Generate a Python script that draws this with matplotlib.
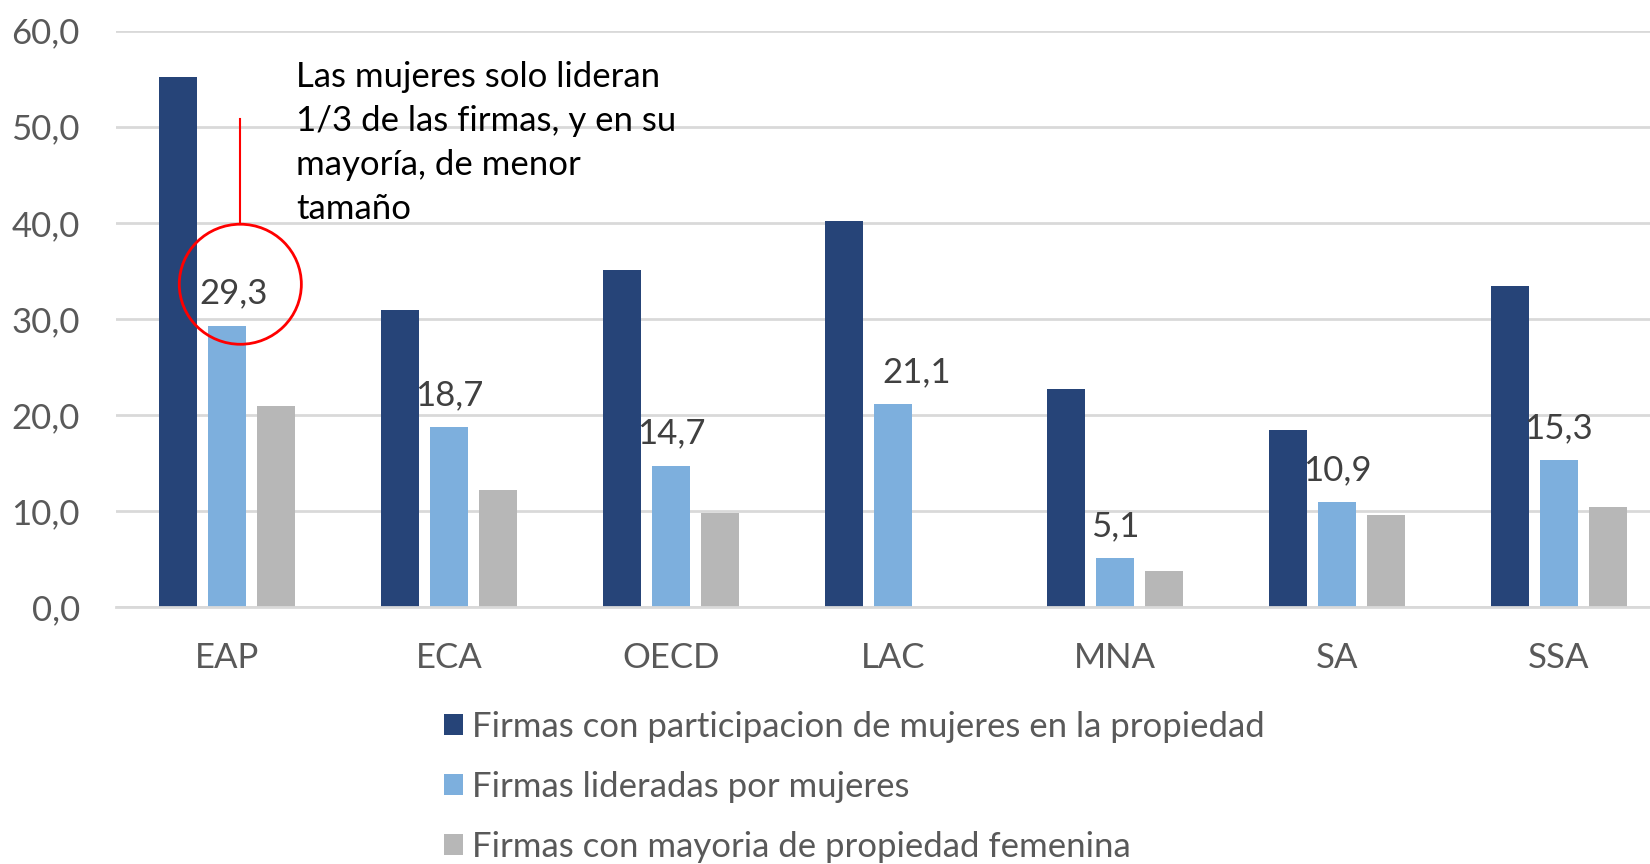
"""
Firmas con participacion femenina por region (barras agrupadas).
"""

import numpy as np
import matplotlib.pyplot as plt
from matplotlib.patches import Ellipse

regions = ['EAP', 'ECA', 'OECD', 'LAC', 'MNA', 'SA', 'SSA']
participacion = [55.2, 30.9, 35.1, 40.2, 22.7, 18.4, 33.4]
lideradas = [29.3, 18.7, 14.7, 21.1, 5.1, 10.9, 15.3]
mayoria = [20.9, 12.2, 9.8, np.nan, 3.7, 9.6, 10.4]

series_names = ['Firmas con participacion de mujeres en la propiedad',
                'Firmas lideradas por mujeres',
                'Firmas con mayoria de propiedad femenina']
colors = ['#264478', '#7DAFDD', '#B7B7B7']

note = 'Las mujeres solo lideran\n1/3 de las firmas, y en su\nmayoría, de menor\ntamaño'

plt.rcParams['font.family'] = ['Lato', 'DejaVu Sans']

fig = plt.figure(figsize=(16.5, 8.64), dpi=100)
ax = fig.add_axes([0.0703, 0.2975, 0.9418, 0.667])

x = np.arange(len(regions))
w = 0.173
pitch = 0.221
for i, (vals, c, name) in enumerate(zip([participacion, lideradas, mayoria], colors, series_names)):
    ax.bar(x + (i - 1) * pitch, vals, width=w, color=c, label=name, zorder=3)

# data labels on the light blue series
for xi, v in zip(x, lideradas):
    dx = 17 if v == 21.1 else (5 if v == 29.3 else 0)
    ax.annotate('{:.1f}'.format(v).replace('.', ','), (xi, v),
                xytext=(dx, 16), textcoords='offset points',
                ha='center', va='baseline', fontsize=25, color='#404040', zorder=4)

ax.set_xlim(-0.5, 6.5)
ax.set_ylim(0, 60)
ax.set_yticks(np.arange(0, 61, 10))
ax.set_yticklabels(['{:.1f}'.format(t).replace('.', ',') for t in np.arange(0, 61, 10)])
ax.set_xticks(x)
ax.set_xticklabels(regions)
ax.tick_params(axis='both', length=0, labelsize=25, labelcolor='#595959')
ax.tick_params(axis='x', pad=25)
ax.tick_params(axis='y', pad=26)
ax.grid(axis='y', color='#D9D9D9', linewidth=2, zorder=0)
for s in ['top', 'right', 'left']:
    ax.spines[s].set_visible(False)
ax.spines['bottom'].set_color('#D9D9D9')
ax.spines['bottom'].set_linewidth(2)
ax.spines['bottom'].set_zorder(5)

# callout
ax.add_patch(Ellipse((0.06, 33.6), 0.55, 12.5, fill=False, edgecolor='#FF0000',
                     linewidth=2, zorder=5, clip_on=False))
ax.plot([0.06, 0.06], [39.9, 50.8], color='#FF0000', linewidth=1.5, zorder=5)
ax.text(0.31, 48.3, note, ha='left', va='center', fontsize=25, color='black',
        linespacing=1.46, zorder=6)

handles, labels = ax.get_legend_handles_labels()
fig.legend(handles, labels, loc='upper left', bbox_to_anchor=(0.2607, 0.1935),
           frameon=False, fontsize=25, labelcolor='#595959', ncol=1,
           handlelength=0.55, handleheight=0.55, handletextpad=0.25,
           labelspacing=0.81, borderaxespad=0)

fig.savefig('out.png', dpi=100)
